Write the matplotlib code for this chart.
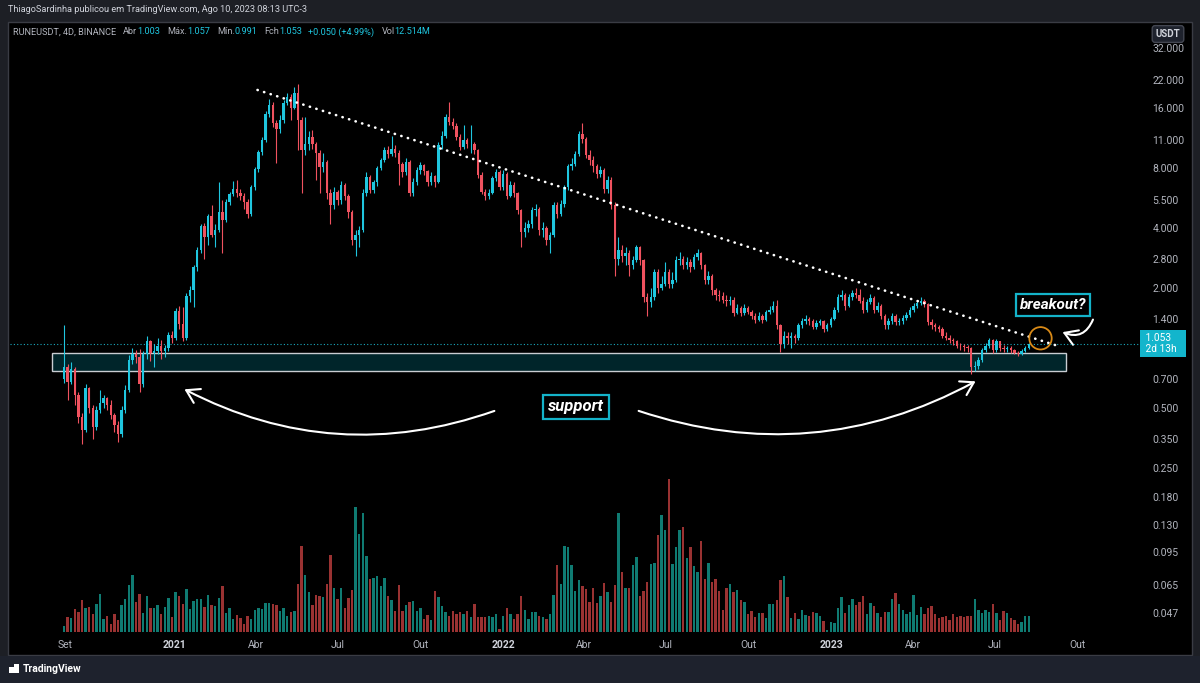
import matplotlib
matplotlib.use('Agg')
import matplotlib.pyplot as plt
import matplotlib.dates as mdates
from matplotlib.patches import Rectangle, FancyArrowPatch
from matplotlib.ticker import NullLocator
from matplotlib import transforms
import numpy as np
import pandas as pd

plt.rcParams['font.family'] = ['Roboto', 'DejaVu Sans']

# RUNEUSDT 4D candles, first candle opens at 0.70
first_open = 0.70
closes = [
    0.80, 0.68, 0.79, 0.58, 0.45, 0.39, 0.63, 0.50, 0.40, 0.49,
    0.53, 0.56, 0.52, 0.46, 0.41, 0.37, 0.49, 0.62, 0.87, 0.93,
    0.90, 0.66, 0.93, 1.08, 0.95, 0.97, 1.03, 0.97, 1.00, 1.17,
    1.12, 1.53, 1.32, 1.12, 1.82, 1.95, 2.55, 3.10, 4.10, 3.60,
    4.60, 3.70, 3.90, 4.80, 4.40, 5.40, 5.90, 6.30, 6.00, 5.80,
    5.40, 4.70, 6.40, 7.90, 9.60, 11.0, 15.0, 16.5, 13.5, 12.5,
    14.0, 17.0, 18.2, 16.0, 19.0, 14.0, 9.80, 10.5, 11.5, 10.5,
    9.50, 8.10, 8.60, 6.00, 5.20, 6.10, 5.50, 6.60, 5.80, 4.80,
    3.50, 3.70, 3.90, 6.00, 7.20, 6.20, 6.80, 8.00, 8.80, 9.80,
    9.40, 10.0, 9.50, 8.40, 7.60, 8.60, 6.00, 6.80, 7.80, 8.30,
    7.70, 6.80, 7.30, 6.80, 10.4, 11.6, 14.4, 13.6, 13.0, 11.4,
    10.2, 11.1, 10.5, 10.6, 9.80, 7.40, 6.10, 5.80, 6.00, 7.10,
    7.60, 6.40, 7.50, 5.80, 6.60, 6.00, 4.90, 3.80, 4.00, 4.20,
    4.90, 5.00, 3.90, 4.00, 3.50, 3.70, 5.20, 4.70, 5.30, 6.40,
    8.20, 8.40, 9.40, 11.9, 11.2, 9.30, 8.80, 8.20, 7.50, 7.80,
    6.30, 7.00, 5.20, 2.80, 3.10, 2.90, 3.00, 2.60, 2.75,
    3.20, 2.75, 1.80, 1.70, 1.80, 2.40, 2.00, 2.10, 2.40, 2.10,
    2.20, 2.75, 2.80, 2.60, 2.70, 2.55, 2.85, 3.00, 2.60, 2.20,
    2.30, 1.95, 1.85, 1.83, 1.75, 1.72, 1.75, 1.50, 1.58, 1.50,
    1.58, 1.52, 1.45, 1.38, 1.45, 1.38, 1.52, 1.56, 1.63, 1.30,
    1.05, 1.15, 1.12, 1.15, 1.12, 1.30, 1.36, 1.40, 1.36, 1.28,
    1.33, 1.36, 1.24, 1.30, 1.40, 1.55, 1.80, 1.85, 1.63, 1.80,
    1.88, 1.85, 1.72, 1.55, 1.70, 1.78, 1.55, 1.63, 1.45,
    1.30, 1.36, 1.45, 1.35, 1.36, 1.42, 1.47, 1.55, 1.62, 1.68,
    1.72, 1.66, 1.35, 1.30, 1.27, 1.25, 1.15, 1.13, 1.10,
    1.08, 1.03, 1.02, 1.01, 1.00, 0.80, 0.81, 0.87, 0.98, 1.02,
    1.10, 0.98, 1.08, 1.00, 0.99, 1.00, 0.98, 0.95, 0.93, 0.97,
    1.003, 1.053]

highs = [
    1.31, 0.83, 0.85, 0.80, 0.60, 0.47, 0.66, 0.64, 0.52, 0.51,
    0.62, 0.58, 0.57, 0.55, 0.47, 0.43, 0.51, 0.65, 0.92, 1.00,
    0.98, 0.99, 0.97, 1.15, 1.10, 1.05, 1.12, 1.10, 1.04, 1.20,
    1.22, 1.58, 1.62, 1.60, 1.90, 2.05, 2.60, 3.20, 4.20, 4.25,
    4.70, 5.20, 4.20, 6.80, 5.50, 5.60, 6.10, 6.90, 7.00, 6.30,
    6.00, 5.60, 6.60, 8.10, 9.80, 11.5, 15.5, 17.8, 17.2, 14.0,
    14.8, 17.5, 19.0, 18.8, 20.5, 21.0, 14.5, 14.5, 12.2, 12.4,
    10.8, 9.90, 9.50, 8.80, 6.30, 6.40, 6.20, 6.90, 6.70, 5.90,
    4.90, 3.90, 4.10, 6.30, 7.60, 7.40, 7.00, 8.20, 9.00, 10.2,
    10.3, 11.6, 10.4, 9.80, 8.60, 9.00, 8.80, 7.10, 8.10, 8.60,
    8.40, 7.80, 7.60, 7.40, 10.8, 12.2, 14.9, 17.2, 14.2, 13.5,
    11.8, 13.2, 11.3, 13.2, 10.8, 10.0, 7.60, 6.30, 6.30, 7.30,
    7.90, 7.80, 7.80, 7.60, 6.90, 6.80, 6.10, 5.00, 4.30, 4.40,
    5.10, 5.30, 5.10, 4.30, 4.10, 3.80, 5.40, 5.40, 5.50, 6.60,
    8.40, 9.00, 9.70, 12.3, 13.5, 11.4, 9.80, 9.20, 8.40, 8.20,
    8.00, 7.30, 7.20, 5.40, 3.60, 3.30, 3.20, 3.10, 2.90,
    3.30, 3.25, 2.80, 1.90, 2.00, 2.50, 2.50, 2.30, 2.70, 2.50,
    2.40, 2.90, 3.05, 2.90, 2.85, 2.80, 2.95, 3.15, 3.05, 2.65,
    2.45, 2.35, 2.00, 1.95, 1.92, 1.85, 1.82, 1.80, 1.66, 1.62,
    1.66, 1.62, 1.56, 1.50, 1.52, 1.48, 1.56, 1.62, 1.72, 1.75,
    1.32, 1.22, 1.20, 1.20, 1.18, 1.34, 1.42, 1.46, 1.44, 1.40,
    1.38, 1.40, 1.38, 1.34, 1.44, 1.60, 1.86, 1.95, 1.88, 1.86,
    1.95, 2.00, 1.98, 1.80, 1.76, 1.86, 1.82, 1.70, 1.66,
    1.48, 1.42, 1.50, 1.48, 1.42, 1.46, 1.52, 1.60, 1.68, 1.74,
    1.80, 1.76, 1.68, 1.40, 1.34, 1.30, 1.28, 1.20, 1.16,
    1.13, 1.10, 1.06, 1.05, 1.04, 1.01, 0.86, 0.90, 1.00, 1.06,
    1.13, 1.11, 1.11, 1.09, 1.04, 1.03, 1.02, 0.99, 0.97, 0.99,
    1.02, 1.057]

lows = [
    0.67, 0.55, 0.66, 0.52, 0.42, 0.33, 0.38, 0.47, 0.35, 0.39,
    0.47, 0.50, 0.49, 0.44, 0.38, 0.34, 0.36, 0.47, 0.60, 0.83,
    0.84, 0.60, 0.64, 0.88, 0.86, 0.80, 0.93, 0.88, 0.90, 0.97,
    1.06, 1.10, 1.25, 1.08, 1.10, 1.70, 1.60, 2.45, 3.00, 2.80,
    3.30, 3.60, 3.20, 3.80, 3.00, 4.30, 5.20, 5.80, 5.70, 5.50,
    5.00, 4.50, 4.60, 6.20, 7.60, 9.30, 10.8, 14.5, 12.8, 8.50,
    12.0, 13.5, 16.5, 14.0, 15.8, 9.80, 6.00, 9.30, 9.80, 10.0,
    7.00, 6.00, 7.60, 5.60, 4.20, 5.00, 5.20, 5.30, 5.50, 4.50,
    3.30, 2.90, 3.20, 3.80, 5.80, 6.00, 6.00, 6.50, 7.80, 8.60,
    9.00, 9.20, 9.10, 6.60, 7.20, 7.40, 5.80, 5.80, 6.60, 7.50,
    7.40, 6.50, 6.60, 6.40, 6.70, 10.0, 11.3, 13.2, 12.5, 11.0,
    9.80, 10.0, 10.1, 9.50, 9.40, 7.10, 5.90, 5.50, 5.60, 5.90,
    6.90, 6.20, 6.20, 5.60, 5.70, 5.70, 4.70, 3.20, 3.60, 3.80,
    4.00, 4.60, 3.70, 3.60, 3.30, 3.00, 3.60, 4.50, 4.60, 5.10,
    6.20, 7.80, 8.20, 9.20, 10.7, 9.00, 8.30, 7.60, 7.10, 7.20,
    6.00, 6.00, 5.00, 2.30, 2.60, 2.70, 2.60, 2.30, 2.50,
    2.70, 2.60, 1.70, 1.45, 1.60, 1.75, 1.90, 1.95, 2.05, 2.00,
    2.00, 2.15, 2.60, 2.50, 2.50, 2.40, 2.50, 2.75, 2.50, 2.10,
    2.10, 1.85, 1.75, 1.72, 1.68, 1.62, 1.65, 1.45, 1.48, 1.45,
    1.47, 1.48, 1.40, 1.33, 1.36, 1.33, 1.36, 1.48, 1.52, 1.25,
    0.96, 1.00, 1.05, 1.00, 1.06, 1.10, 1.26, 1.32, 1.30, 1.24,
    1.25, 1.30, 1.20, 1.22, 1.28, 1.38, 1.52, 1.75, 1.55, 1.60,
    1.75, 1.78, 1.68, 1.50, 1.52, 1.66, 1.50, 1.52, 1.40,
    1.25, 1.24, 1.32, 1.30, 1.30, 1.32, 1.38, 1.44, 1.52, 1.58,
    1.64, 1.60, 1.30, 1.25, 1.22, 1.20, 1.12, 1.10, 1.06,
    1.04, 1.00, 0.98, 0.97, 0.96, 0.74, 0.77, 0.79, 0.85, 0.96,
    1.00, 0.95, 0.96, 0.97, 0.96, 0.96, 0.95, 0.93, 0.91, 0.92,
    0.96, 0.991]

# volume in millions
volumes = [
    4.5, 12.0, 11.5, 18.7, 16.0, 25.9, 19.0, 20.0, 14.2, 22.2,
    30.2, 10.7, 12.5, 6.7, 14.2, 9.3, 21.9, 26.7, 37.4, 45.4,
    24.0, 30.2, 15.2, 28.6, 19.5, 19.5, 21.6, 14.2, 20.0, 27.2,
    12.0, 32.0, 28.6, 22.7, 34.2, 18.7, 24.8, 26.2, 26.7, 20.0,
    29.9, 21.6, 21.1, 27.2, 36.6, 15.5, 19.0, 10.1, 13.4, 11.2,
    6.7, 12.5, 10.7, 17.4, 19.0, 18.7, 23.5, 23.5, 22.7, 21.9,
    16.6, 19.2, 12.5, 15.8, 16.6, 38.2, 68.6, 45.4, 32.3, 21.9,
    29.9, 28.6, 27.8, 38.7, 61.4, 35.2, 26.7, 35.2, 19.5, 27.5,
    33.4, 100.1, 78.2, 95.3, 60.6, 42.7, 43.3, 44.6, 37.1, 43.5,
    28.6, 25.4, 16.8, 37.6, 16.8, 21.4, 23.8, 25.1, 16.8,
    19.0, 10.1, 13.9, 9.3, 32.8, 28.0, 20.6, 16.0, 13.1, 16.6,
    14.7, 16.3, 14.7, 17.1, 12.0, 22.7, 12.0, 12.0, 12.0, 12.5,
    12.0, 14.2, 2.1, 12.5, 19.5, 14.7, 10.7, 14.2, 29.1, 17.4,
    10.1, 16.0, 16.3, 12.5, 12.0, 10.1, 14.2, 29.9, 53.4, 38.7,
    68.6, 68.1, 53.4, 32.8, 41.4, 37.1, 34.4, 24.3, 35.0, 23.5,
    29.1, 39.5, 32.0, 23.8, 37.6, 94.8, 48.1, 35.5, 35.0, 53.4,
    60.1, 28.6, 32.8, 40.0, 54.7, 55.5, 77.4, 93.5, 81.2, 122.0,
    54.7, 67.6, 81.2, 83.6, 59.5, 68.1, 52.9, 48.1, 72.6, 42.7,
    55.5, 40.0, 42.7, 32.8, 17.4, 35.5, 38.7, 32.0, 33.4, 25.4,
    24.0, 14.2, 16.8, 12.0, 15.5, 15.5, 11.5, 22.7, 22.2, 25.9,
    41.9, 44.6, 27.8, 11.5, 15.5, 10.7, 17.9, 13.4, 12.5, 16.0,
    15.5, 13.1, 8.8, 1.3, 8.0, 7.2, 19.0, 27.8, 15.5, 21.9,
    26.7, 21.9, 24.0, 28.6, 14.2, 23.2, 20.6, 15.5, 11.7, 16.3,
    16.3, 26.2, 31.5, 22.2, 17.6, 14.2, 16.3, 29.6, 13.4, 20.0,
    14.2, 19.0, 21.1, 14.2, 11.5, 12.0, 13.1, 9.3, 14.2, 12.0,
    12.5, 12.0, 12.5, 12.5, 26.7, 17.4, 15.5, 17.9, 16.3, 22.2,
    15.5, 9.3, 16.8, 15.5, 11.5, 9.3, 6.7, 7.7, 13.1, 12.5]

last_date = '2023-08-08'
price_ticks = [32, 22, 16, 11, 8, 5.5, 4, 2.8, 2, 1.4, 0.7, 0.5, 0.35,
               0.25, 0.18, 0.13, 0.095, 0.065, 0.047]
month_ticks = ['2020-09-01', '2021-01-01', '2021-04-01', '2021-07-01',
               '2021-10-01', '2022-01-01', '2022-04-01', '2022-07-01',
               '2022-10-01', '2023-01-01', '2023-04-01', '2023-07-01',
               '2023-10-01']
month_labels = ['Set', '2021', 'Abr', 'Jul', 'Out', '2022', 'Abr', 'Jul',
                'Out', '2023', 'Abr', 'Jul', 'Out']
last_price = 1.053

# trendline and support zone (dates / prices)
trend_dates = ['2021-04-03', '2023-09-08']
trend_prices = [19.7, 1.03]
support_zone = ('2020-08-18', '2023-09-18', 0.77, 0.94)

UP = '#1fc6df'
DOWN = '#f0525f'
VUP = '#0f7b72'
VDOWN = '#9a3232'
TXT = '#b2b5be'

W, H = 1200, 683
fig = plt.figure(figsize=(12, 6.83), dpi=100, facecolor='#1d1f25')


def P(x, y):
    return (x / W, 1 - y / H)


# chart panel and bottom band
fig.add_artist(Rectangle(P(8, 655), 1184 / W, 633 / H, transform=fig.transFigure,
                         fc='black', ec='#3a3c44', lw=1, zorder=0))
fig.add_artist(Rectangle(P(0, 683), 1, 27 / H, transform=fig.transFigure,
                         fc='#1e222d', ec='none', zorder=0))

ax = fig.add_axes([10 / W, 1 - 632 / H, 1130 / W, 608 / H])
axv = ax.twinx()
ax.set_zorder(axv.get_zorder() + 1)
ax.patch.set_visible(False)

n = len(closes)
dates = pd.date_range(end=last_date, periods=n, freq='4D')
x = mdates.date2num(dates)
c = np.array(closes)
o = np.array([first_open] + closes[:-1])
hi = np.maximum(np.array(highs), np.maximum(o, c))
lo = np.minimum(np.array(lows), np.minimum(o, c))
up = c >= o
cols = np.where(up, UP, DOWN)

# volume overlay
axv.bar(x, volumes, width=2.8, color=np.where(up, VUP, VDOWN), linewidth=0)
axv.set_ylim(0, 486)
axv.set_yticks([])
for s in axv.spines.values():
    s.set_visible(False)

# candles
ax.vlines(x, lo, hi, colors=cols, linewidth=0.8, zorder=3)
body_lo = np.minimum(o, c)
body_h = np.maximum(np.abs(c - o), body_lo * 0.006)
ax.bar(x, body_h, bottom=body_lo, width=2.8, color=cols, linewidth=0, zorder=4)

ax.set_yscale('log')
ax.set_ylim(0.0377, 42.2)
x0 = mdates.date2num(pd.Timestamp('2020-07-02'))
ax.set_xlim(x0, x0 + 1130 / 0.9)

# support zone
sx0 = mdates.date2num(pd.Timestamp(support_zone[0]))
sx1 = mdates.date2num(pd.Timestamp(support_zone[1]))
ax.add_patch(Rectangle((sx0, support_zone[2]), sx1 - sx0,
                       support_zone[3] - support_zone[2],
                       fc=(0.0, 0.74, 0.83, 0.2), ec='#c9cdd2', lw=1.0, zorder=2))

# trendline
ax.plot(mdates.date2num(pd.to_datetime(trend_dates)), trend_prices, color='white',
        lw=1.9, linestyle=(0, (0.1, 2.5)), dash_capstyle='round', zorder=5)

# last price line
ax.axhline(last_price, color='#1aa9bd', lw=0.8, linestyle=(0, (1, 2)), zorder=1)

# breakout circle
ax.scatter([mdates.date2num(pd.Timestamp('2023-08-21'))], [1.12], s=260,
           facecolors='none', edgecolors='#d98a17', linewidths=1.3, zorder=6)

# axes cosmetics
for s in ax.spines.values():
    s.set_visible(False)
ax.yaxis.tick_right()
ax.set_yticks(price_ticks)
ax.set_yticklabels([f'{t:.3f}' for t in price_ticks])
ax.yaxis.set_minor_locator(NullLocator())
ax.tick_params(axis='y', length=0, pad=9, labelsize=7.5, colors=TXT)
ax.set_xticks(mdates.date2num(pd.to_datetime(month_ticks)))
ax.set_xticklabels(month_labels)
ax.tick_params(axis='x', length=0, pad=6, labelsize=7.5, colors=TXT)
for lab in ax.get_xticklabels():
    if lab.get_text().isdigit():
        lab.set_fontweight('bold')
        lab.set_color('#d1d4dc')

# last price label
bt = transforms.blended_transform_factory(ax.transAxes, ax.transData)
ax.text(1.003, last_price, ' 1.053   \n 2d 13h  ', transform=bt, ha='left', va='center',
        fontsize=7.3, color='white', linespacing=1.05,
        bbox=dict(boxstyle='square,pad=0.35', fc='#13b5cc', ec='none'), zorder=10,
        clip_on=False)

# labels with boxes
fig.text(*P(576, 407), 'support', ha='center', va='center', fontsize=12,
         fontweight='bold', style='italic', color='white',
         bbox=dict(boxstyle='square,pad=0.28', fc='black', ec='#14b3c9', lw=1.6))
fig.text(*P(1053, 305), 'breakout?', ha='center', va='center', fontsize=11,
         fontweight='bold', style='italic', color='white',
         bbox=dict(boxstyle='square,pad=0.25', fc='black', ec='#14b3c9', lw=1.6))

# curved arrows
for a, b, rad in [((497, 410), (182, 388), -0.22),
                  ((636, 410), (978, 380), 0.22),
                  ((1094, 317), (1060, 331), -0.55)]:
    fig.add_artist(FancyArrowPatch(P(*a), P(*b), transform=fig.transFigure,
                                   connectionstyle=f'arc3,rad={rad}',
                                   arrowstyle='->,head_length=0.45,head_width=0.28',
                                   mutation_scale=20, color='white', lw=1.5))

# header texts
fig.text(*P(8, 10), 'ThiagoSardinha publicou em TradingView.com, Ago 10, 2023 08:13 UTC-3',
         fontsize=6.6, color='#d1d4dc', va='center')

# legend line: pieces chained one after another
legend = [('RUNEUSDT, 4D, BINANCE', TXT, 7), ('Abr', TXT, 0), ('1.003', UP, 7),
          ('Máx.', TXT, 0), ('1.057', UP, 7), ('Mín.', TXT, 0), ('0.991', UP, 7),
          ('Fch', TXT, 0), ('1.053', UP, 6), ('+0.050 (+4.99%)', UP, 7),
          ('Vol', TXT, 0), ('12.514M', UP, 0)]
renderer = fig.canvas.get_renderer()
cur = 13
for s, col, gap in legend:
    t = fig.text(*P(cur, 32), s, fontsize=6.6, color=col, va='center')
    cur += t.get_window_extent(renderer).width + gap

fig.text(*P(1168, 34), 'USDT', ha='center', va='center', fontsize=7, color='#d1d4dc',
         fontweight='bold',
         bbox=dict(boxstyle='round,pad=0.35,rounding_size=0.3', fc='#1e222d', ec='#434651'))

# TradingView footer
fig.add_artist(Rectangle(P(9, 673), 7 / W, 6 / H, transform=fig.transFigure,
                         fc='white', ec='none'))
fig.add_artist(Rectangle(P(14, 673), 5 / W, 9 / H, transform=fig.transFigure,
                         fc='white', ec='none'))
fig.text(*P(23, 669), 'TradingView', fontsize=7.5, color='white', va='center',
         fontweight='bold')

fig.savefig('out.png', dpi=100, facecolor=fig.get_facecolor())
